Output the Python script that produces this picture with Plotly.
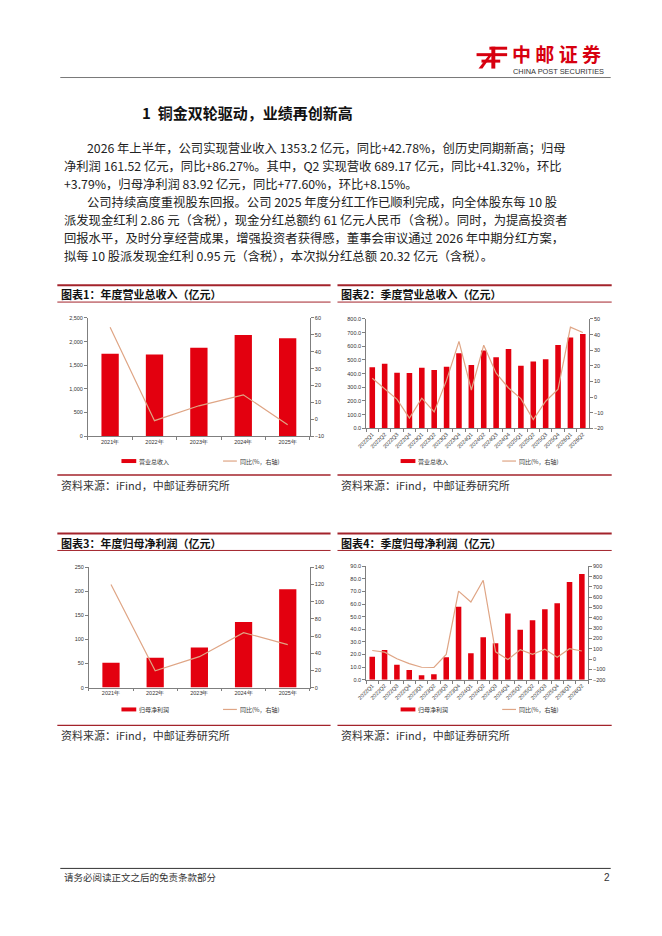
import plotly.graph_objects as go

# page size in px
W, H = 662, 936

BAR_RED = "#E3000F"
LINE_TAN = "#DFA585"
DARK_RED = "#A3232B"
AXIS = "#7F7F7F"
TXT = "#333333"
CJK = "Noto Sans CJK SC"
LAT = "Liberation Sans"

# ---- data ----
years = ["2021年", "2022年", "2023年", "2024年", "2025年"]
annual_revenue = [1742, 1728, 1868, 2142, 2072]
annual_revenue_yoy = [54.5, -0.8, 8.0, 14.5, -3.2]

annual_profit = [51.6, 62.0, 83.3, 136.4, 204.5]
annual_profit_yoy = [120.0, 19.5, 36.0, 64.0, 50.0]

quarters = ["2022Q1", "2022Q2", "2022Q3", "2022Q4",
            "2023Q1", "2023Q2", "2023Q3", "2023Q4",
            "2024Q1", "2024Q2", "2024Q3", "2024Q4",
            "2025Q1", "2025Q2", "2025Q3", "2025Q4",
            "2026Q1", "2026Q2"]
q_revenue = [446, 472, 407, 405, 443, 427, 451, 549, 463,
             569, 520, 581, 458, 488, 506, 610, 664, 689]
q_revenue_yoy = [12.0, 5.5, -1.5, -13.5, -0.7, -9.5, 10.8, 35.6, 4.5,
                 33.2, 15.3, 5.8, -1.0, -14.4, -2.7, 5.0, 44.8, 41.3]

q_profit = [18.1, 23.6, 11.8, 7.6, 3.4, 4.2, 17.8, 58.0, 21.0,
            33.6, 28.9, 52.5, 39.6, 47.2, 55.9, 60.6, 77.6, 83.9]
q_profit_yoy = [83, 67, 3, -45, -80, -82, 45, 660, 554,
                765, 70, -5, 90, 45, 95, 18, 100, 78]


def px(x):
    return x / W


def py(y):
    return 1 - y / H


def x_axis(left, right, anchor, angle=0):
    return dict(domain=[px(left), px(right)], anchor=anchor, type="category",
                showline=True, linecolor=AXIS, linewidth=0.8,
                ticks="outside", tickson="boundaries", ticklen=3,
                tickcolor=AXIS, tickwidth=0.8, tickangle=angle,
                tickfont=dict(family=LAT, size=5.5, color=TXT),
                showgrid=False, zeroline=False)


def y_axis(top, bottom, anchor, rng, dtick, fmt=""):
    return dict(domain=[py(bottom), py(top)], anchor=anchor, range=rng,
                dtick=dtick, tickformat=fmt, showline=True, linecolor=AXIS,
                linewidth=0.8, ticks="outside", ticklen=3, tickcolor=AXIS,
                tickwidth=0.8, tickfont=dict(family=LAT, size=5.5, color=TXT),
                showgrid=False, zeroline=False)


def y_right(anchor, over, rng, dtick):
    return dict(overlaying=over, side="right", anchor=anchor, range=rng,
                dtick=dtick, showline=True, linecolor=AXIS, linewidth=0.8,
                ticks="outside", ticklen=3, tickcolor=AXIS, tickwidth=0.8,
                tickfont=dict(family=LAT, size=5.5, color=TXT),
                showgrid=False, zeroline=False)


traces = []
charts = [
    (years, annual_revenue, annual_revenue_yoy, 0.39, "x", "y", "y2"),
    (quarters, q_revenue, q_revenue_yoy, 0.45, "x2", "y3", "y4"),
    (years, annual_profit, annual_profit_yoy, 0.39, "x3", "y5", "y6"),
    (quarters, q_profit, q_profit_yoy, 0.45, "x4", "y7", "y8"),
]
for cats, bars, yoy, bw, xa, ya, yb in charts:
    traces.append(go.Bar(x=cats, y=bars, xaxis=xa, yaxis=ya, width=bw,
                         marker=dict(color=BAR_RED, line=dict(width=0)),
                         showlegend=False))
    traces.append(go.Scatter(x=cats, y=yoy, xaxis=xa, yaxis=yb, mode="lines",
                             line=dict(color=LINE_TAN, width=1.2),
                             showlegend=False))

fig = go.Figure(data=traces)

fig.update_layout(
    width=W, height=H,
    margin=dict(l=0, r=0, t=0, b=0),
    paper_bgcolor="white", plot_bgcolor="rgba(0,0,0,0)",
    showlegend=False,
    xaxis=x_axis(80, 305, "y"),
    yaxis=y_axis(317, 436, "x", [0, 2500], 500, ","),
    yaxis2=y_right("x", "y", [-10, 60], 10),
    xaxis2=x_axis(362, 588, "y3", -45),
    yaxis3=y_axis(318, 428, "x2", [0, 800], 100, ".1f"),
    yaxis4=y_right("x2", "y3", [-20, 50], 10),
    xaxis3=x_axis(81, 305, "y5"),
    yaxis5=y_axis(568, 689, "x3", [0, 250], 50),
    yaxis6=y_right("x3", "y5", [0, 140], 20),
    xaxis4=x_axis(362, 587, "y7", -45),
    yaxis7=y_axis(567, 681, "x4", [0, 90], 10, ".1f"),
    yaxis8=y_right("x4", "y7", [-200, 900], 100),
)

shapes = []
notes = []


def hline(x0, x1, y, color, width):
    shapes.append(dict(type="line", xref="paper", yref="paper",
                       x0=px(x0), x1=px(x1), y0=py(y), y1=py(y),
                       line=dict(color=color, width=width)))


def rect(x0, x1, y0, y1, color):
    shapes.append(dict(type="rect", xref="paper", yref="paper",
                       x0=px(x0), x1=px(x1), y0=py(y1), y1=py(y0),
                       fillcolor=color, line=dict(width=0)))


def text(x, y, s, size, color="#222222", bold=False, anchor="left",
         family=CJK, box=None):
    if bold:
        s = "<b>" + s + "</b>"
    note = dict(xref="paper", yref="paper", x=px(x), y=py(y), text=s,
                showarrow=False, xanchor=anchor, yanchor="middle",
                align=anchor, borderpad=0,
                font=dict(family=family, size=size, color=color))
    if box:
        note["width"] = box
    notes.append(note)


# header: logo, company name, rule
rect(487, 505, 44, 47, "#D7000F")
rect(474, 505, 50.5, 53.5, "#D7000F")
rect(479, 498, 57, 60, "#D7000F")
rect(489, 493, 44, 66, "#D7000F")
shapes.append(dict(type="path", xref="paper", yref="paper",
                   path="M %f %f L %f %f L %f %f L %f %f Z" % (
                       px(489), py(53), px(480), py(66), px(476), py(66), px(486), py(53)),
                   fillcolor="#D7000F", line=dict(width=0)))
text(509, 51, "中 邮 证 券", 19, "#D7000F", bold=True, box=100)
text(510, 68.5, "CHINA POST SECURITIES", 7.4, "#333333", family=LAT, box=100)
hline(52, 610, 75, "#555555", 0.8)

# section heading and body text
text(134, 110, "1  铜金双轮驱动，业绩再创新高", 15, "#111111", bold=True, box=260)
body = [
    (78, 146.0, "2026 年上半年，公司实现营业收入 1353.2 亿元，同比+42.78%，创历史同期新高；归母"),
    (55, 164.1, "净利润 161.52 亿元，同比+86.27%。其中，Q2 实现营收 689.17 亿元，同比+41.32%，环比"),
    (55, 182.2, "+3.79%，归母净利润 83.92 亿元，同比+77.60%，环比+8.15%。"),
    (78, 200.3, "公司持续高度重视股东回报。公司 2025 年度分红工作已顺利完成，向全体股东每 10 股"),
    (55, 218.4, "派发现金红利 2.86 元（含税），现金分红总额约 61 亿元人民币（含税）。同时，为提高投资者"),
    (55, 236.5, "回报水平，及时分享经营成果，增强投资者获得感，董事会审议通过 2026 年中期分红方案，"),
    (55, 254.6, "拟每 10 股派发现金红利 0.95 元（含税），本次拟分红总额 20.32 亿元（含税）。"),
]
for bx, by, line in body:
    text(bx, by, line, 12.3, "#222222", box=605 - bx)

# chart frames: title rules, titles, legends, sources
frames = [
    (49, 326, 284, "图表1：年度营业总收入（亿元）", "营业总收入", 114, 217, 461, 475),
    (333, 611, 284, "图表2：季度营业总收入（亿元）", "营业总收入", 397, 500, 461, 475),
    (49, 326, 534, "图表3：年度归母净利润（亿元）", "归母净利润", 114, 217, 711, 727),
    (333, 611, 534, "图表4：季度归母净利润（亿元）", "归母净利润", 397, 500, 711, 727),
]
for x0, x1, top, title, bar_name, lx_bar, lx_line, ly, src in frames:
    hline(x0, x1, top, DARK_RED, 2)
    text(x0 + 3, top + 9, title, 11, "#111111", bold=True, box=200)
    hline(x0, x1, top + 17, DARK_RED, 1)
    rect(lx_bar, lx_bar + 15, ly - 2, ly + 2, BAR_RED)
    text(lx_bar + 17, ly, bar_name, 6, TXT, box=40)
    hline(lx_line, lx_line + 14, ly, LINE_TAN, 1.2)
    text(lx_line + 16, ly, "同比(%，右轴)", 6, TXT, box=50)
    hline(x0, x1, src, DARK_RED, 1.4)
    text(x0 + 3, src + 10, "资料来源：iFind，中邮证券研究所", 11, "#333333", box=200)

# footer
hline(52, 610, 871, "#333333", 1)
text(55, 880, "请务必阅读正文之后的免责条款部分", 9.5, "#333333", box=200)
text(610, 880, "2", 10, "#333333", anchor="right", family=LAT)

fig.update_layout(shapes=shapes, annotations=notes)
fig.write_html("out.html",
               config={"displayModeBar": False},
               post_script="document.body.style.margin='0px';"
                           "document.body.style.overflow='hidden';")
